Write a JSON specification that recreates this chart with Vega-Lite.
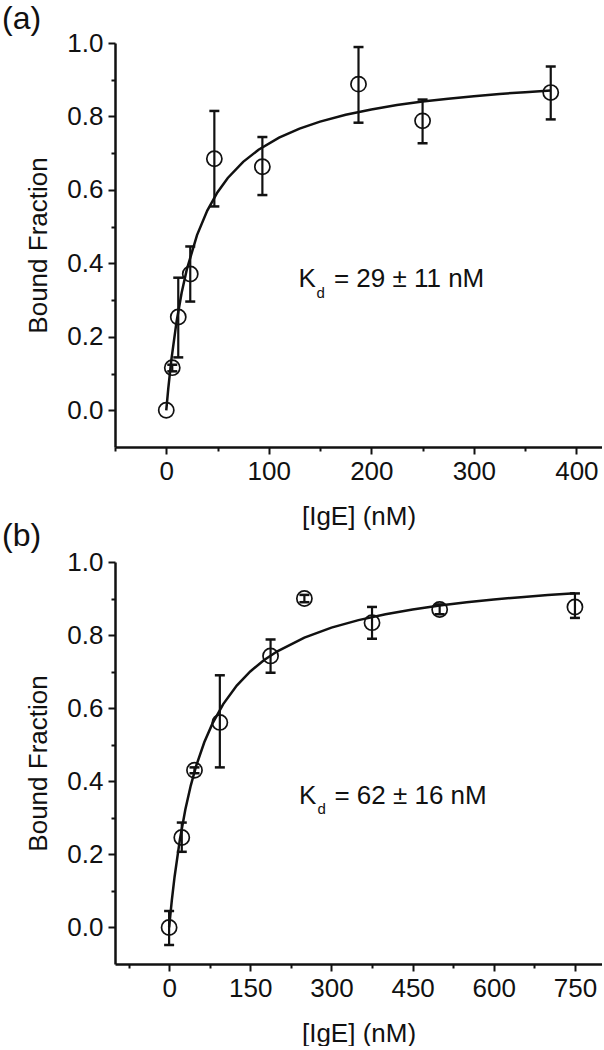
{
  "$schema": "https://vega.github.io/schema/vega-lite/v6.json",
  "padding": {"left": 2, "top": 2, "right": 0, "bottom": 0},
  "background": "white",
  "config": {
    "font": "Liberation Sans",
    "view": {"stroke": null},
    "axis": {
      "grid": false,
      "domainColor": "#111",
      "domainWidth": 2.5,
      "tickColor": "#111",
      "tickWidth": 2,
      "tickSize": 7,
      "labelFont": "Liberation Sans",
      "titleFont": "Liberation Sans",
      "labelFontSize": 26,
      "titleFontSize": 26,
      "labelColor": "#111",
      "titleColor": "#111",
      "titleFontWeight": "normal",
      "labelFlush": false,
      "labelOverlap": false
    },
    "text": {"font": "Liberation Sans", "fontSize": 26, "color": "#111"}
  },
  "datasets": {
    "a_pts": [
      {"x": 0, "y": 0.0},
      {"x": 5.86, "y": 0.116, "lo": 0.106, "hi": 0.124},
      {"x": 11.7, "y": 0.254, "lo": 0.144, "hi": 0.361},
      {"x": 23.4, "y": 0.371, "lo": 0.296, "hi": 0.446},
      {"x": 46.9, "y": 0.685, "lo": 0.555, "hi": 0.815},
      {"x": 93.75, "y": 0.663, "lo": 0.586, "hi": 0.744},
      {"x": 187.5, "y": 0.888, "lo": 0.783, "hi": 0.989},
      {"x": 250, "y": 0.788, "lo": 0.727, "hi": 0.846},
      {"x": 375, "y": 0.865, "lo": 0.792, "hi": 0.936}
    ],
    "a_fit": [
      {"x": 0, "y": 0}, {"x": 2, "y": 0.0605}, {"x": 5, "y": 0.138}, {"x": 10, "y": 0.2405},
      {"x": 15, "y": 0.3198}, {"x": 20, "y": 0.3829}, {"x": 30, "y": 0.477}, {"x": 40, "y": 0.5438},
      {"x": 50, "y": 0.5937}, {"x": 60, "y": 0.6324}, {"x": 75, "y": 0.6764}, {"x": 90, "y": 0.7094},
      {"x": 110, "y": 0.7423}, {"x": 130, "y": 0.7669}, {"x": 150, "y": 0.786}, {"x": 175, "y": 0.8047},
      {"x": 200, "y": 0.8192}, {"x": 225, "y": 0.8309}, {"x": 250, "y": 0.8405}, {"x": 275, "y": 0.8485},
      {"x": 300, "y": 0.8553}, {"x": 325, "y": 0.8612}, {"x": 350, "y": 0.8662}, {"x": 375, "y": 0.8707}
    ],
    "b_pts": [
      {"x": 0, "y": 0.0, "lo": -0.048, "hi": 0.045},
      {"x": 23.4, "y": 0.246, "lo": 0.207, "hi": 0.287},
      {"x": 46.9, "y": 0.430, "lo": 0.422, "hi": 0.438},
      {"x": 93.75, "y": 0.561, "lo": 0.438, "hi": 0.690},
      {"x": 187.5, "y": 0.743, "lo": 0.697, "hi": 0.788},
      {"x": 250, "y": 0.900, "lo": 0.890, "hi": 0.910},
      {"x": 375, "y": 0.834, "lo": 0.790, "hi": 0.877},
      {"x": 500, "y": 0.870, "lo": 0.857, "hi": 0.884},
      {"x": 750, "y": 0.877, "lo": 0.847, "hi": 0.914}
    ],
    "b_fit": [
      {"x": 0, "y": 0}, {"x": 5, "y": 0.0739}, {"x": 10, "y": 0.1375}, {"x": 20, "y": 0.2415},
      {"x": 30, "y": 0.3228}, {"x": 40, "y": 0.3882}, {"x": 50, "y": 0.442}, {"x": 65, "y": 0.5067},
      {"x": 80, "y": 0.5577}, {"x": 100, "y": 0.6111}, {"x": 125, "y": 0.6618}, {"x": 150, "y": 0.7005},
      {"x": 175, "y": 0.731}, {"x": 200, "y": 0.7557}, {"x": 250, "y": 0.7933}, {"x": 300, "y": 0.8204},
      {"x": 350, "y": 0.841}, {"x": 400, "y": 0.8571}, {"x": 450, "y": 0.8701}, {"x": 500, "y": 0.8808},
      {"x": 550, "y": 0.8897}, {"x": 600, "y": 0.8973}, {"x": 650, "y": 0.9038}, {"x": 700, "y": 0.9094},
      {"x": 750, "y": 0.9144}
    ]
  },
  "bounds": "flush",
  "spacing": 115,
  "vconcat": [
    {
      "width": 487,
      "height": 404,
      "resolve": {"axis": {"x": "independent", "y": "independent"}},
      "layer": [
        {
          "data": {"name": "a_fit"},
          "mark": {"type": "line", "color": "#111", "strokeWidth": 2.5},
          "encoding": {
            "x": {"field": "x", "type": "quantitative", "scale": {"domain": [-50, 425], "nice": false, "zero": false},
                  "axis": {"values": [-50, 50, 150, 250, 350], "labels": false, "domain": false, "tickSize": 4, "title": null, "orient": "bottom"}},
            "y": {"field": "y", "type": "quantitative", "scale": {"domain": [-0.1, 1.0], "nice": false, "zero": false},
                  "axis": {"values": [0.1, 0.3, 0.5, 0.7, 0.9], "labels": false, "domain": false, "tickSize": 4, "title": null, "orient": "left"}}
          }
        },
        {
          "data": {"name": "a_pts"},
          "mark": {"type": "rule", "color": "#111", "strokeWidth": 2.2},
          "encoding": {
            "x": {"field": "x", "type": "quantitative", "axis": null},
            "y": {"field": "lo", "type": "quantitative", "axis": null},
            "y2": {"field": "hi"}
          }
        },
        {
          "data": {"name": "a_pts"},
          "mark": {"type": "tick", "orient": "horizontal", "size": 10, "thickness": 2.5, "color": "#111", "opacity": 1},
          "encoding": {
            "x": {"field": "x", "type": "quantitative", "axis": null},
            "y": {"field": "lo", "type": "quantitative", "axis": null}
          }
        },
        {
          "data": {"name": "a_pts"},
          "mark": {"type": "tick", "orient": "horizontal", "size": 10, "thickness": 2.5, "color": "#111", "opacity": 1},
          "encoding": {
            "x": {"field": "x", "type": "quantitative", "axis": null},
            "y": {"field": "hi", "type": "quantitative", "axis": null}
          }
        },
        {
          "data": {"name": "a_pts"},
          "mark": {"type": "point", "shape": "circle", "size": 230, "filled": false, "stroke": "#111", "strokeWidth": 1.7, "opacity": 1},
          "encoding": {
            "x": {"field": "x", "type": "quantitative",
                  "axis": {"values": [0, 100, 200, 300, 400], "title": "[IgE] (nM)", "labelPadding": 4, "titlePadding": 19, "orient": "bottom"}},
            "y": {"field": "y", "type": "quantitative",
                  "axis": {"values": [0, 0.2, 0.4, 0.6, 0.8, 1.0], "format": ".1f", "title": "Bound Fraction", "labelPadding": 5, "titlePadding": 15, "orient": "left"}}
          }
        },
        {
          "data": {"values": [{}]},
          "mark": {"type": "text", "text": "K", "align": "left", "baseline": "alphabetic"},
          "encoding": {
            "x": {"datum": 129, "type": "quantitative", "axis": null},
            "y": {"datum": 0.336, "type": "quantitative", "axis": null}
          }
        },
        {
          "data": {"values": [{}]},
          "mark": {"type": "text", "text": "d", "align": "left", "baseline": "alphabetic", "fontSize": 15},
          "encoding": {
            "x": {"datum": 146.5, "type": "quantitative", "axis": null},
            "y": {"datum": 0.307, "type": "quantitative", "axis": null}
          }
        },
        {
          "data": {"values": [{}]},
          "mark": {"type": "text", "text": "= 29 ± 11 nM", "align": "left", "baseline": "alphabetic"},
          "encoding": {
            "x": {"datum": 163.5, "type": "quantitative", "axis": null},
            "y": {"datum": 0.336, "type": "quantitative", "axis": null}
          }
        },
        {
          "data": {"values": [{}]},
          "mark": {"type": "text", "text": "(a)", "align": "left", "baseline": "middle", "fontSize": 32, "dx": -113, "dy": -24.5},
          "encoding": {
            "x": {"datum": -50, "type": "quantitative", "axis": null},
            "y": {"datum": 1.0, "type": "quantitative", "axis": null}
          }
        },
        {
          "data": {"values": [{}]},
          "mark": {"type": "text", "text": "(b)", "align": "left", "baseline": "middle", "fontSize": 32, "dx": -113, "dy": 89},
          "encoding": {
            "x": {"datum": -50, "type": "quantitative", "axis": null},
            "y": {"datum": -0.1, "type": "quantitative", "axis": null}
          }
        }
      ]
    },
    {
      "width": 487,
      "height": 402,
      "resolve": {"axis": {"x": "independent", "y": "independent"}},
      "layer": [
        {
          "data": {"name": "b_fit"},
          "mark": {"type": "line", "color": "#111", "strokeWidth": 2.5},
          "encoding": {
            "x": {"field": "x", "type": "quantitative", "scale": {"domain": [-100, 800], "nice": false, "zero": false},
                  "axis": {"values": [-75, 75, 225, 375, 525, 675], "labels": false, "domain": false, "tickSize": 4, "title": null, "orient": "bottom"}},
            "y": {"field": "y", "type": "quantitative", "scale": {"domain": [-0.1, 1.0], "nice": false, "zero": false},
                  "axis": {"values": [0.1, 0.3, 0.5, 0.7, 0.9], "labels": false, "domain": false, "tickSize": 4, "title": null, "orient": "left"}}
          }
        },
        {
          "data": {"name": "b_pts"},
          "mark": {"type": "rule", "color": "#111", "strokeWidth": 2.2},
          "encoding": {
            "x": {"field": "x", "type": "quantitative", "axis": null},
            "y": {"field": "lo", "type": "quantitative", "axis": null},
            "y2": {"field": "hi"}
          }
        },
        {
          "data": {"name": "b_pts"},
          "mark": {"type": "tick", "orient": "horizontal", "size": 10, "thickness": 2.5, "color": "#111", "opacity": 1},
          "encoding": {
            "x": {"field": "x", "type": "quantitative", "axis": null},
            "y": {"field": "lo", "type": "quantitative", "axis": null}
          }
        },
        {
          "data": {"name": "b_pts"},
          "mark": {"type": "tick", "orient": "horizontal", "size": 10, "thickness": 2.5, "color": "#111", "opacity": 1},
          "encoding": {
            "x": {"field": "x", "type": "quantitative", "axis": null},
            "y": {"field": "hi", "type": "quantitative", "axis": null}
          }
        },
        {
          "data": {"name": "b_pts"},
          "mark": {"type": "point", "shape": "circle", "size": 230, "filled": false, "stroke": "#111", "strokeWidth": 1.7, "opacity": 1},
          "encoding": {
            "x": {"field": "x", "type": "quantitative",
                  "axis": {"values": [0, 150, 300, 450, 600, 750], "title": "[IgE] (nM)", "labelPadding": 4, "titlePadding": 19, "orient": "bottom"}},
            "y": {"field": "y", "type": "quantitative",
                  "axis": {"values": [0, 0.2, 0.4, 0.6, 0.8, 1.0], "format": ".1f", "title": "Bound Fraction", "labelPadding": 5, "titlePadding": 15, "orient": "left"}}
          }
        },
        {
          "data": {"values": [{}]},
          "mark": {"type": "text", "text": "K", "align": "left", "baseline": "alphabetic"},
          "encoding": {
            "x": {"datum": 240, "type": "quantitative", "axis": null},
            "y": {"datum": 0.337, "type": "quantitative", "axis": null}
          }
        },
        {
          "data": {"values": [{}]},
          "mark": {"type": "text", "text": "d", "align": "left", "baseline": "alphabetic", "fontSize": 15},
          "encoding": {
            "x": {"datum": 274, "type": "quantitative", "axis": null},
            "y": {"datum": 0.31, "type": "quantitative", "axis": null}
          }
        },
        {
          "data": {"values": [{}]},
          "mark": {"type": "text", "text": "= 62 ± 16 nM", "align": "left", "baseline": "alphabetic"},
          "encoding": {
            "x": {"datum": 305.5, "type": "quantitative", "axis": null},
            "y": {"datum": 0.337, "type": "quantitative", "axis": null}
          }
        }
      ]
    }
  ]
}
